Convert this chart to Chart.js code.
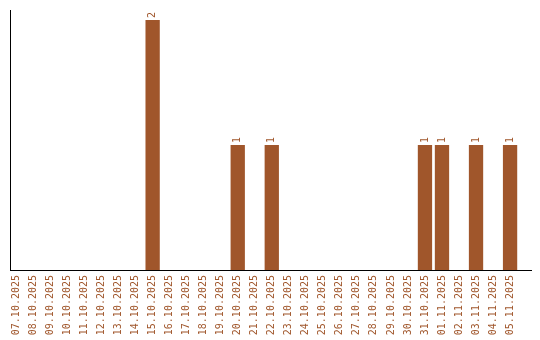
<!DOCTYPE html>
<html>
<head>
<meta charset="utf-8">
<script src="https://cdn.jsdelivr.net/npm/chart.js@4/dist/chart.umd.min.js"></script>
<style>
    body { margin: 0; background: #fff; }
    #wrap { width: 540px; height: 340px; }
</style>
</head>
<body>
<div id="wrap"><canvas id="countChart"></canvas></div>
<script>
const dates = ['07.10.2025', '08.10.2025', '09.10.2025', '10.10.2025', '11.10.2025', '12.10.2025',
    '13.10.2025', '14.10.2025', '15.10.2025', '16.10.2025', '17.10.2025', '18.10.2025',
    '19.10.2025', '20.10.2025', '21.10.2025', '22.10.2025', '23.10.2025', '24.10.2025',
    '25.10.2025', '26.10.2025', '27.10.2025', '28.10.2025', '29.10.2025', '30.10.2025',
    '31.10.2025', '01.11.2025', '02.11.2025', '03.11.2025', '04.11.2025', '05.11.2025'];
const counts = [0, 0, 0, 0, 0, 0, 0, 0, 2, 0, 0, 0, 0, 1, 0, 1, 0, 0, 0, 0, 0, 0, 0, 0, 1, 1, 0, 1, 0, 1];

const brown = '#a0562b';
const monoFont = { family: '"DejaVu Sans Mono", monospace', size: 10 };

// value above each bar, rotated like the date labels
const barValues = {
    id: 'barValues',
    afterDatasetsDraw(chart) {
        const ctx = chart.ctx;
        const meta = chart.getDatasetMeta(0);
        ctx.save();
        ctx.fillStyle = brown;
        ctx.font = '10px "DejaVu Sans Mono", monospace';
        ctx.textAlign = 'left';
        ctx.textBaseline = 'middle';
        meta.data.forEach((bar, i) => {
            if (!counts[i]) return;
            ctx.save();
            ctx.translate(bar.x, bar.y - 2);
            ctx.rotate(-Math.PI / 2);
            ctx.fillText(String(counts[i]), 0, 0);
            ctx.restore();
        });
        ctx.restore();
    }
};

const countChart = new Chart('countChart', {
    type: 'bar',
    data: {
        datasets: [{
            data: counts.map((v, i) => ({ x: i, y: v })),
            backgroundColor: brown,
            borderWidth: 0,
            barPercentage: 0.84,
            categoryPercentage: 1
        }]
    },
    options: {
        responsive: true,
        maintainAspectRatio: false,
        animation: false,
        layout: { padding: { top: 10, right: 9, left: 0, bottom: 0 } },
        plugins: {
            legend: { display: false },
            tooltip: { enabled: false }
        },
        scales: {
            x: {
                type: 'linear',
                offset: false,
                min: -0.38,
                max: 30.23,
                grid: { display: false, drawTicks: false },
                border: { color: '#000', width: 1 },
                ticks: {
                    stepSize: 1,
                    includeBounds: false,
                    autoSkip: false,
                    minRotation: 90,
                    maxRotation: 90,
                    padding: 5,
                    color: brown,
                    font: monoFont,
                    callback: (v) => dates[v] !== undefined ? dates[v] : ''
                },
                afterBuildTicks: (s) => {
                    s.ticks = s.ticks.filter(t => t.value >= 0 && t.value < dates.length);
                },
                afterFit: (s) => { s.height = 70; }
            },
            y: {
                min: 0,
                max: 2.08,
                grid: { display: false, drawTicks: false },
                border: { color: '#000', width: 1 },
                ticks: { display: false },
                afterFit: (s) => { s.width = 10; }
            }
        }
    },
    plugins: [barValues]
});
</script>
</body>
</html>
